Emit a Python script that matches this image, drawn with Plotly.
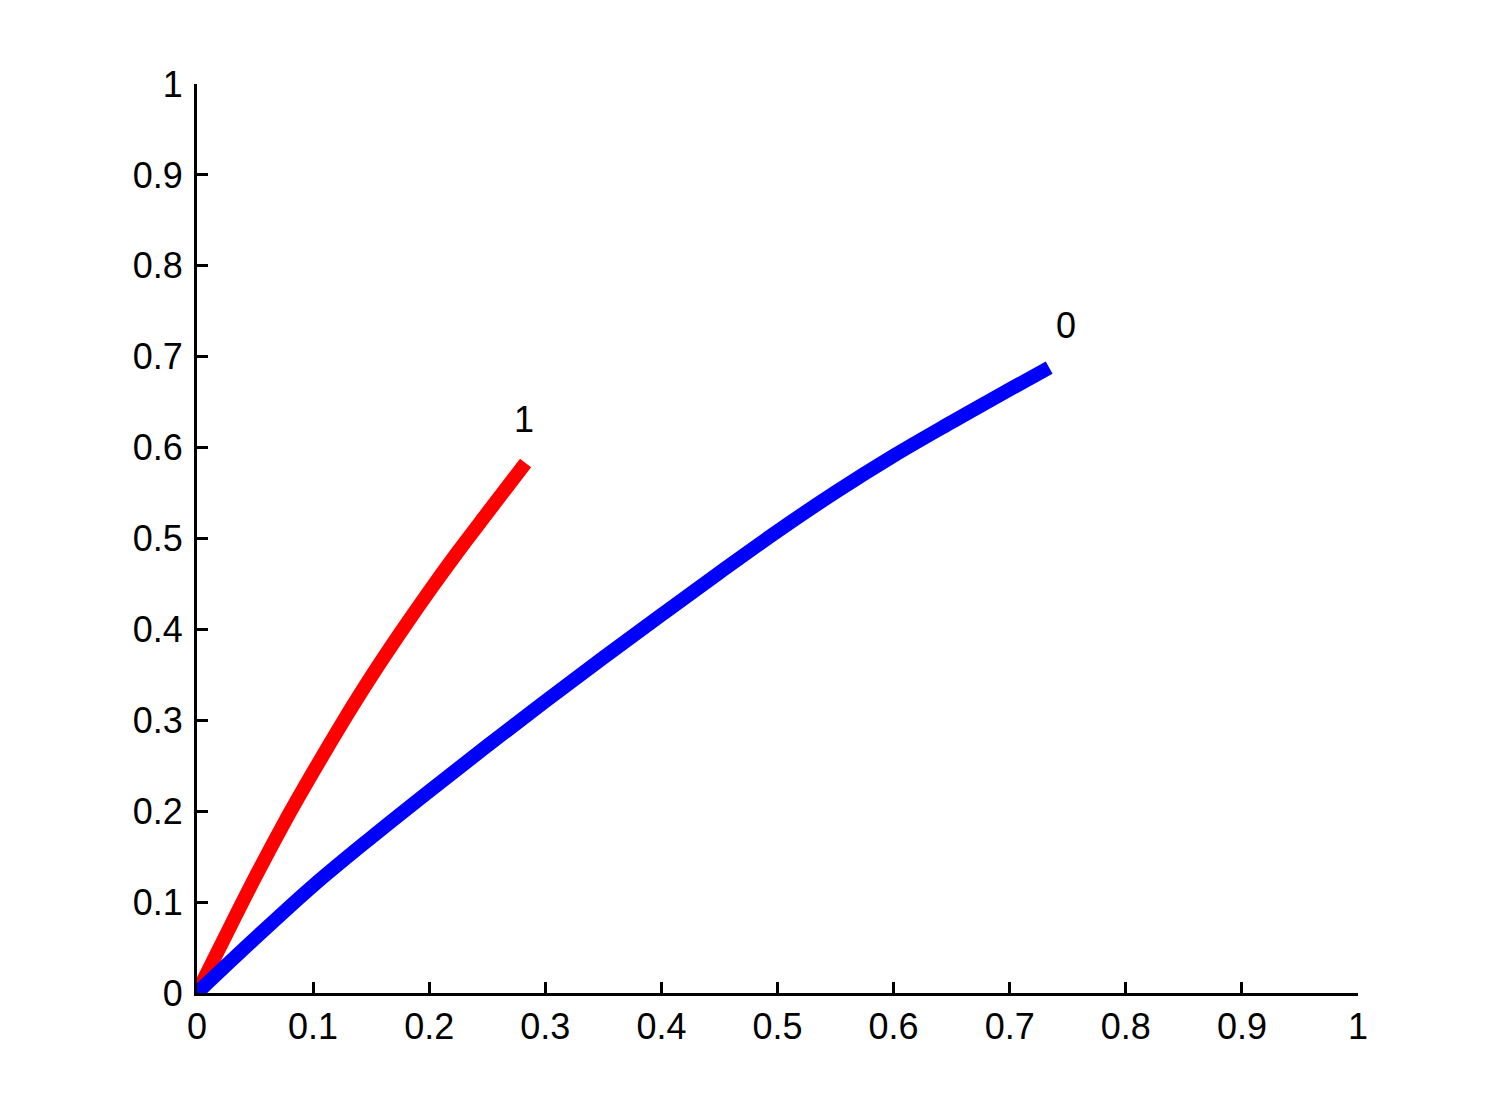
import plotly.graph_objects as go

# Series "1" (red)
red_x = [0, 0.025, 0.05, 0.075, 0.1, 0.125, 0.15, 0.175, 0.2, 0.225, 0.25, 0.283]
red_y = [0, 0.064, 0.127, 0.187, 0.243, 0.297, 0.348, 0.396, 0.442, 0.486, 0.528, 0.583]
red_label = "1"

# Series "0" (blue)
blue_x = [0, 0.05, 0.1, 0.15, 0.2, 0.25, 0.3, 0.35, 0.4, 0.45, 0.5, 0.55, 0.6, 0.65, 0.7, 0.734]
blue_y = [0, 0.060, 0.118, 0.171, 0.222, 0.272, 0.321, 0.369, 0.416, 0.4625, 0.508, 0.551, 0.591, 0.628, 0.664, 0.688]
blue_label = "0"

tick_vals = [0, 0.1, 0.2, 0.3, 0.4, 0.5, 0.6, 0.7, 0.8, 0.9, 1]
tick_text = ["0", "0.1", "0.2", "0.3", "0.4", "0.5", "0.6", "0.7", "0.8", "0.9", "1"]

FONT = "Liberation Sans, Arial, sans-serif"
FS = 36

fig = go.Figure()
fig.add_trace(go.Scatter(x=red_x, y=red_y, mode="lines",
                         line=dict(color="#ff0000", width=14, shape="spline"),
                         showlegend=False))
fig.add_trace(go.Scatter(x=blue_x, y=blue_y, mode="lines",
                         line=dict(color="#0000ff", width=14, shape="spline"),
                         showlegend=False))

fig.add_annotation(x=red_x[-1], y=red_y[-1], text=red_label, showarrow=False,
                   xshift=-2, yshift=44, font=dict(family=FONT, size=FS, color="black"))
fig.add_annotation(x=blue_x[-1], y=blue_y[-1], text=blue_label, showarrow=False,
                   xshift=17, yshift=42, font=dict(family=FONT, size=FS, color="black"))

axis_common = dict(
    range=[0, 1], tickvals=tick_vals, ticktext=tick_text,
    showgrid=False, zeroline=False, showline=True, linecolor="black", linewidth=3,
    ticks="inside", ticklen=11, tickwidth=3, tickcolor="black",
    tickfont=dict(family=FONT, size=FS, color="black"), mirror=False,
)

fig.update_layout(
    width=1500, height=1117,
    margin=dict(l=189, r=150, t=76, b=132),
    paper_bgcolor="white", plot_bgcolor="white",
    xaxis=dict(**axis_common, ticklabelstandoff=0),
    yaxis=dict(**axis_common, ticklabelstandoff=4),
)

fig.write_html("out.html")
